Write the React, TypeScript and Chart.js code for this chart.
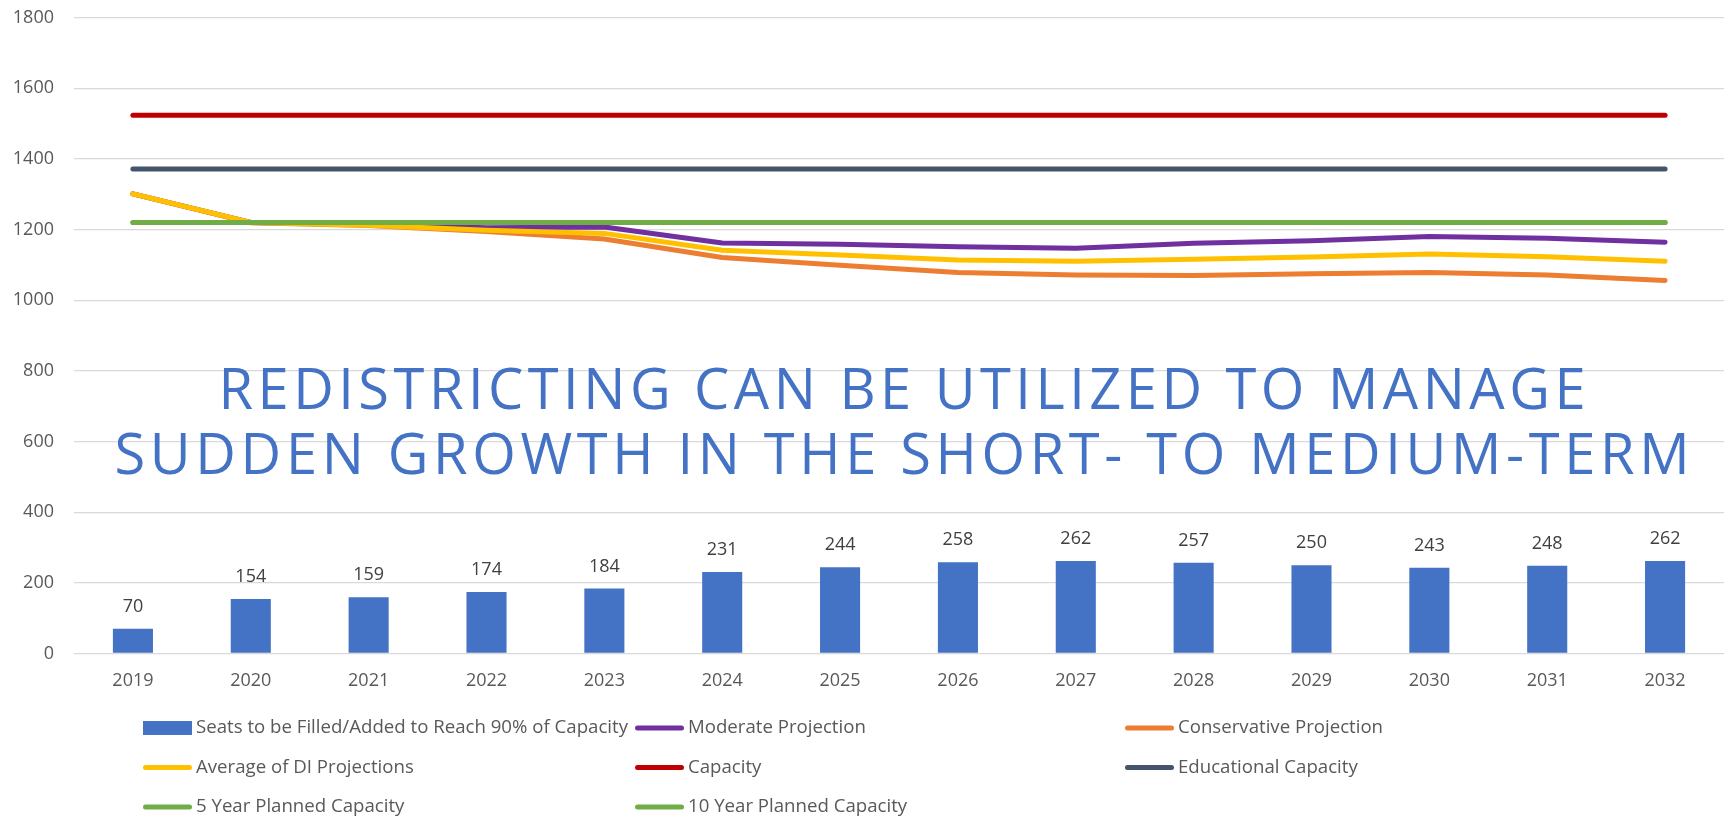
import React, { useEffect, useRef } from "react";
import { Chart, registerables } from "chart.js";

Chart.register(...registerables);

// ---------- data ----------
const years = ["2019", "2020", "2021", "2022", "2023", "2024", "2025", "2026", "2027", "2028", "2029", "2030", "2031", "2032"];
const seatsToFill = [70, 154, 159, 174, 184, 231, 244, 258, 262, 257, 250, 243, 248, 262];
const moderateProjection = [1301, 1220, 1214, 1205, 1207, 1162, 1158, 1151, 1147, 1161, 1168, 1180, 1175, 1164];
const conservativeProjection = [1301, 1219, 1211, 1194, 1173, 1121, 1099, 1078, 1071, 1070, 1075, 1078, 1071, 1056];
const averageDIProjection = [1301, 1220, 1212, 1198, 1189, 1141, 1128, 1114, 1110, 1116, 1122, 1131, 1123, 1110];
const capacity = [1523, 1523, 1523, 1523, 1523, 1523, 1523, 1523, 1523, 1523, 1523, 1523, 1523, 1523];
const educationalCapacity = [1371, 1371, 1371, 1371, 1371, 1371, 1371, 1371, 1371, 1371, 1371, 1371, 1371, 1371];
const fiveYearPlanned = [1220, 1220, 1220, 1220, 1220, 1220, 1220, 1220, 1220, 1220, 1220, 1220, 1220, 1220];
const tenYearPlanned = [1220, 1220, 1220, 1220, 1220, 1220, 1220, 1220, 1220, 1220, 1220, 1220, 1220, 1220];
const yMin = 0;
const yMax = 1800;
const yStep = 200;
const titleLines = ["REDISTRICTING CAN BE UTILIZED TO MANAGE", "SUDDEN GROWTH IN THE SHORT- TO MEDIUM-TERM"];

const FONT = '"Open Sans", "Liberation Sans", sans-serif';

const valueLabelPlugin = {
  id: "valueLabels",
  afterDatasetsDraw(chart: any) {
    const ctx = chart.ctx;
    chart.data.datasets.forEach((ds: any, i: number) => {
      if (ds.type !== "bar") return;
      const meta = chart.getDatasetMeta(i);
      ctx.save();
      ctx.font = `18px ${FONT}`;
      ctx.fillStyle = "#404040";
      ctx.textAlign = "center";
      ctx.textBaseline = "middle";
      meta.data.forEach((el: any, j: number) => {
        ctx.fillText(String(ds.data[j]), el.x, el.y - 22);
      });
      ctx.restore();
    });
  },
};

const titlePlugin = {
  id: "overlayTitle",
  afterDraw(chart: any) {
    const ctx = chart.ctx;
    const area = chart.chartArea;
    const cx = (area.left + area.right) / 2 + 3;
    const specs = [
      { text: titleLines[0], y: 393, width: 1367 },
      { text: titleLines[1], y: 458, width: 1575 },
    ];
    ctx.save();
    ctx.font = `56px ${FONT}`;
    ctx.fillStyle = "#4472C4";
    ctx.textBaseline = "middle";
    ctx.textAlign = "left";
    specs.forEach((s) => {
      const chars = Array.from(s.text);
      const widths = chars.map((c) => ctx.measureText(c).width);
      const w0 = widths.reduce((a, b) => a + b, 0);
      const ls = (s.width - w0) / (chars.length - 1);
      let x = cx - s.width / 2;
      chars.forEach((c, k) => {
        ctx.fillText(c, x, s.y);
        x += widths[k] + ls;
      });
    });
    ctx.restore();
  },
};

const legendPlugin = {
  id: "gridLegend",
  afterDraw(chart: any) {
    const ctx = chart.ctx;
    const colsMarker = [143, 635, 1125];
    const rowsY = [728, 767.5, 807];
    const markerW = 49;
    const textGap = 4;
    ctx.save();
    ctx.font = `18px ${FONT}`;
    const ref = ctx.measureText(chart.data.datasets[0].label).width;
    const sx = 432 / ref;
    chart.data.datasets.forEach((ds: any, i: number) => {
      const col = i % 3;
      const row = Math.floor(i / 3);
      const mx = colsMarker[col];
      const my = rowsY[row];
      if (ds.type === "bar") {
        ctx.fillStyle = ds.backgroundColor;
        ctx.fillRect(mx, my - 7, markerW, 14);
      } else {
        ctx.strokeStyle = ds.borderColor;
        ctx.lineWidth = 5;
        ctx.lineCap = "round";
        ctx.beginPath();
        ctx.moveTo(mx + 2.5, my);
        ctx.lineTo(mx + markerW - 2.5, my);
        ctx.stroke();
      }
      ctx.save();
      ctx.translate(mx + markerW + textGap, my);
      ctx.scale(sx, 1);
      ctx.fillStyle = "#595959";
      ctx.textAlign = "left";
      ctx.textBaseline = "middle";
      ctx.fillText(ds.label, 0, 0);
      ctx.restore();
    });
    ctx.restore();
  },
};

function lineDs(label: string, data: number[], color: string, order: number) {
  return {
    type: "line" as const,
    label,
    data,
    borderColor: color,
    backgroundColor: color,
    borderWidth: 5,
    borderCapStyle: "round" as const,
    borderJoinStyle: "round" as const,
    pointRadius: 0,
    pointHoverRadius: 0,
    tension: 0,
    fill: false,
    order,
  };
}

export default function App() {
  const canvasRef = useRef<HTMLCanvasElement | null>(null);

  useEffect(() => {
    if (!canvasRef.current) return;
    const chart = new Chart(canvasRef.current, {
      data: {
        labels: years,
        datasets: [
          {
            type: "bar",
            label: "Seats to be Filled/Added to Reach 90% of Capacity",
            data: seatsToFill,
            backgroundColor: "#4472C4",
            borderWidth: 0,
            barPercentage: 0.34,
            categoryPercentage: 1,
            order: 7,
          },
          lineDs("Moderate Projection", moderateProjection, "#7030A0", 6),
          lineDs("Conservative Projection", conservativeProjection, "#ED7D31", 5),
          lineDs("Average of DI Projections", averageDIProjection, "#FFC000", 4),
          lineDs("Capacity", capacity, "#C00000", 3),
          lineDs("Educational Capacity", educationalCapacity, "#44546A", 2),
          lineDs("5 Year Planned Capacity", fiveYearPlanned, "#70AD47", 1),
          lineDs("10 Year Planned Capacity", tenYearPlanned, "#70AD47", 0),
        ] as any,
      },
      options: {
        responsive: false,
        animation: false,
        devicePixelRatio: 1,
        layout: { padding: { top: 17.5, right: 0, bottom: 0, left: 0 } },
        plugins: {
          legend: { display: false },
          tooltip: { enabled: false },
          title: { display: false },
        },
        scales: {
          x: {
            offset: true,
            grid: { display: false },
            border: { display: false },
            ticks: {
              color: "#595959",
              font: { family: FONT, size: 18 },
              padding: 9,
              maxRotation: 0,
            },
            afterFit(scale: any) {
              scale.height = 165.5;
            },
          },
          y: {
            min: yMin,
            max: yMax,
            grid: { color: "#D9D9D9", lineWidth: 1.3, drawTicks: false },
            border: { display: false },
            ticks: {
              stepSize: yStep,
              color: "#595959",
              font: { family: FONT, size: 18 },
              padding: 20,
              callback: (v: any) => String(v),
            },
            afterFit(scale: any) {
              scale.width = 74;
              scale.paddingTop = 0;
              scale.paddingBottom = 0;
            },
          },
        },
      } as any,
      plugins: [valueLabelPlugin, titlePlugin, legendPlugin],
    });
    return () => chart.destroy();
  }, []);

  return (
    <div style={{ position: "fixed", left: 0, top: 0, width: 1724, height: 819, background: "#fff" }}>
      <canvas ref={canvasRef} width={1724} height={819} style={{ display: "block" }} />
    </div>
  );
}
